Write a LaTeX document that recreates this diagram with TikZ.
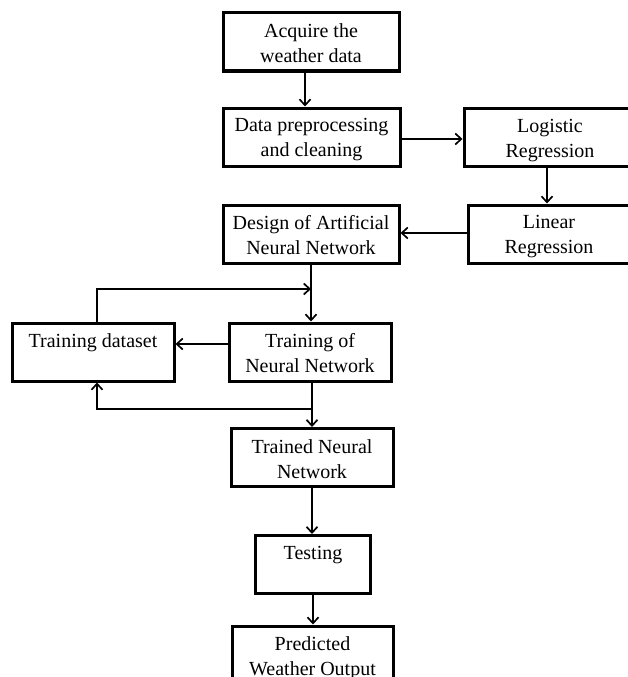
\documentclass[tikz,border=0pt]{standalone}
\usepackage{fontspec}
\setmainfont{Liberation Serif}
\usetikzlibrary{arrows.meta,calc}
\tikzset{
  box/.style={draw, line width=3pt, rectangle, inner sep=0pt, minimum height=58pt},
  txt/.style={anchor=north, align=center, inner sep=0pt, font=\fontsize{20}{25}\selectfont},
  arr/.style={line width=1.7pt, -{Straight Barb[length=6pt,width=11pt,line width=1.7pt]}},
}
\newcommand\mybox[5]{%
  \node[box, minimum width=#4pt] (#1) at (#2,#3) {};
  \begin{scope}
    \clip ($(#1.north west)+(2,2)$) rectangle ($(#1.south east)+(-2,-6)$);
    \node[txt] (#1t) at ($(#1.north)+(0,12)$) {#5};
  \end{scope}}
\begin{document}
\begin{tikzpicture}[x=1pt,y=-1pt]
\useasboundingbox (0,0) rectangle (628,677);
\clip (0,0) rectangle (628,677);
\mybox{acq}{311}{42}{176}{Acquire the\\weather data}
\mybox{prep}{311.5}{137}{177}{Data preprocessing\\and cleaning}
\mybox{logi}{550}{137.5}{172}{Logistic\\Regression}
\mybox{lin}{549}{234}{162}{Linear\\Regression}
\mybox{ann}{311}{234}{176}{Design of Artificial\\Neural Network}
\mybox{tds}{93}{352}{162}{Training dataset}
\mybox{tnn}{310}{352}{162}{Training of\\Neural Network}
\mybox{trd}{312}{457.5}{162}{Trained Neural\\Network}
\mybox{tst}{313}{564.5}{115}{Testing}
\mybox{pred}{312.5}{655}{161}{Predicted\\Weather Output}

\draw[arr] ($(acq.south)+(-6,0)$) -- ($(prep.north)+(-6.5,0)$);
\draw[arr] ($(prep.east)+(0,2)$) -- ($(logi.west)+(0,1.5)$);
\draw[arr] ($(logi.south)+(-3,0)$) -- ($(lin.north)+(-2,0)$);
\draw[arr] ($(lin.west)+(0,-1)$) -- ($(ann.east)+(0,-1)$);
\draw[arr] (ann.south) -- (ann.south |- tnn.north);
\coordinate (j1) at (ann.south |- 0,289);
\draw[arr] ($(tds.north)+(4,0)$) |- (j1);
\draw[arr] ($(tnn.west)+(0,-8)$) -- ($(tds.east)+(0,-8)$);
\draw[arr] (tnn.south -| trd.north) -- (trd.north);
\coordinate (j2) at (trd.north |- 0,409);
\draw[arr] (j2) -| ($(tds.south)+(4,0)$);
\draw[arr] (trd.south) -- (trd.south |- tst.north);
\draw[arr] (tst.south) -- (tst.south |- pred.north);
\end{tikzpicture}
\end{document}
